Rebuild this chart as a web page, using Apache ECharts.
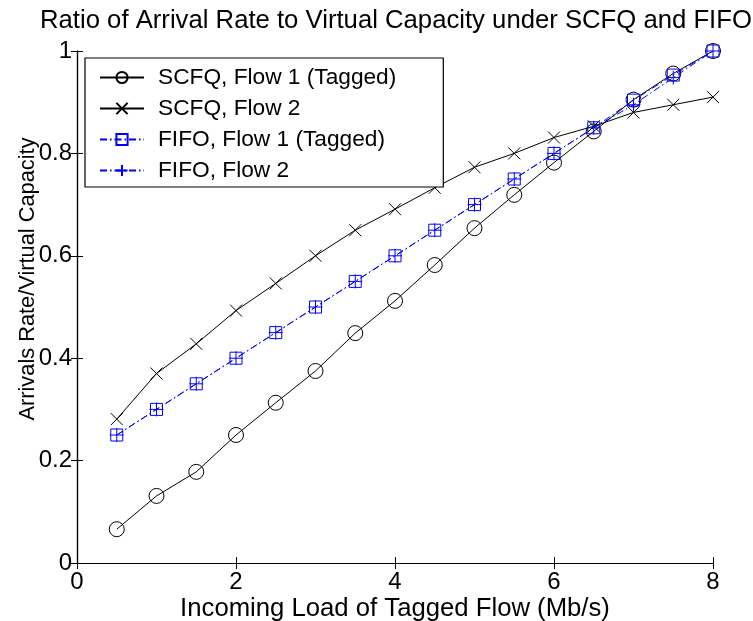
<!DOCTYPE html>
<html>
<head>
<meta charset="utf-8">
<script src="https://cdn.jsdelivr.net/npm/echarts@6/dist/echarts.min.js"></script>
<style>
  html, body { margin: 0; padding: 0; background: #fff; }
  #chart { width: 753px; height: 621px; }
</style>
</head>
<body>
<div id="chart"></div>
<script>
// Incoming load of the tagged flow (Mb/s)
const loads = [0.5, 1, 1.5, 2, 2.5, 3, 3.5, 4, 4.5, 5, 5.5, 6, 6.5, 7, 7.5, 8];

// Arrival rate / virtual capacity
const scfqFlow1 = [0.066, 0.131, 0.178, 0.250, 0.313, 0.375, 0.449, 0.512, 0.582, 0.654, 0.719, 0.782, 0.843, 0.905, 0.956, 1.000];
const scfqFlow2 = [0.281, 0.370, 0.428, 0.493, 0.546, 0.600, 0.650, 0.691, 0.733, 0.773, 0.800, 0.831, 0.853, 0.880, 0.895, 0.910];
const fifoFlow1 = [0.250, 0.300, 0.350, 0.400, 0.450, 0.500, 0.550, 0.600, 0.650, 0.700, 0.750, 0.800, 0.850, 0.904, 0.953, 1.000];
const fifoFlow2 = [0.250, 0.300, 0.350, 0.400, 0.450, 0.500, 0.550, 0.600, 0.650, 0.700, 0.750, 0.800, 0.850, 0.895, 0.948, 1.000];

const seriesNames = ['SCFQ, Flow 1 (Tagged)', 'SCFQ, Flow 2', 'FIFO, Flow 1 (Tagged)', 'FIFO, Flow 2'];

const FONT = '"Liberation Sans", Arial, Helvetica, sans-serif';
const BLUE = '#0000ff';

const pairs = ys => loads.map((x, i) => [x, ys[i]]);

function makeSeries(name, ys, color, symbol, size, dashed) {
  return {
    name: name,
    type: 'line',
    data: pairs(ys),
    symbol: symbol,
    symbolSize: size,
    showAllSymbol: true,
    lineStyle: { color: color, width: 1, type: dashed ? [7, 3, 1.5, 3] : 'solid' },
    itemStyle: { color: 'rgba(0,0,0,0)', borderColor: color, borderWidth: 1 },
    emphasis: { disabled: true },
    animation: false
  };
}

const axisLine = { show: true, lineStyle: { color: '#000', width: 1.2 } };
const axisTick = { show: true, inside: true, length: 6, lineStyle: { color: '#000', width: 1 } };

const option = {
  backgroundColor: '#fff',
  animation: false,
  title: {
    text: 'Ratio of Arrival Rate to Virtual Capacity under SCFQ and FIFO',
    left: 40,
    top: 8,
    padding: 0,
    textStyle: { fontFamily: FONT, fontSize: 25.7, fontWeight: 'normal', color: '#000' }
  },
  grid: { left: 77, right: 40, top: 51, bottom: 58, containLabel: false, outerBoundsMode: 'none' },
  legend: {
    data: seriesNames,
    orient: 'vertical',
    left: 85,
    top: 58,
    padding: [8, 47, 5, 14],
    itemWidth: 44,
    itemHeight: 14,
    itemGap: 8,
    backgroundColor: '#fff',
    borderColor: '#000',
    borderWidth: 1.2,
    textStyle: { fontFamily: FONT, fontSize: 22.7, color: '#000', lineHeight: 22, padding: [0, 0, 0, 9] },
    selectedMode: false
  },
  xAxis: [
    {
      type: 'value', min: 0, max: 8, interval: 2, position: 'bottom',
      axisLine: axisLine, axisTick: axisTick, splitLine: { show: false },
      axisLabel: { fontFamily: FONT, fontSize: 24, color: '#000', margin: 7 },
      name: 'Incoming Load of Tagged Flow (Mb/s)', nameLocation: 'middle', nameGap: 33,
      nameMoveOverlap: false,
      nameTextStyle: { fontFamily: FONT, fontSize: 25.7, color: '#000' }
    },
    {
      type: 'value', min: 0, max: 8, interval: 2, position: 'top',
      axisLine: axisLine, axisTick: axisTick, splitLine: { show: false },
      axisLabel: { show: false }
    }
  ],
  yAxis: [
    {
      type: 'value', min: 0, max: 1, interval: 0.2, position: 'left',
      axisLine: axisLine, axisTick: axisTick, splitLine: { show: false },
      axisLabel: { fontFamily: FONT, fontSize: 24, color: '#000', margin: 5 },
      name: 'Arrivals Rate/Virtual Capacity', nameLocation: 'middle', nameGap: 38,
      nameMoveOverlap: false,
      nameTextStyle: { fontFamily: FONT, fontSize: 21.8, color: '#000', padding: [0, 0, 0, 56] }
    },
    {
      type: 'value', min: 0, max: 1, interval: 0.2, position: 'right',
      axisLine: axisLine, axisTick: axisTick, splitLine: { show: false },
      axisLabel: { show: false }
    }
  ],
  series: [
    makeSeries(seriesNames[0], scfqFlow1, '#000', 'circle', 15, false),
    makeSeries(seriesNames[1], scfqFlow2, '#000', 'path://M0,0L10,10M10,0L0,10', 12, false),
    makeSeries(seriesNames[2], fifoFlow1, BLUE, 'rect', 12, true),
    makeSeries(seriesNames[3], fifoFlow2, BLUE, 'path://M5,0L5,10M0,5L10,5', 14, true)
  ]
};

const chart = echarts.init(document.getElementById('chart'), null, { renderer: 'canvas' });
chart.setOption(option);
</script>
</body>
</html>
